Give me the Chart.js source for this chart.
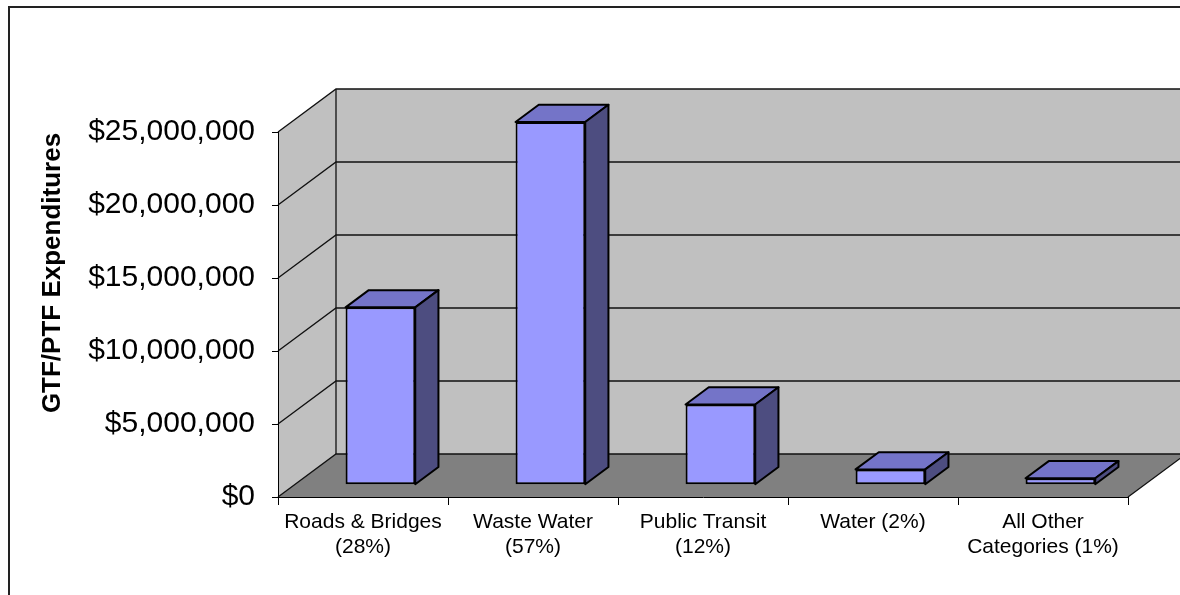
<!DOCTYPE html>
<html><head><meta charset="utf-8">
<script src="https://cdn.jsdelivr.net/npm/chart.js@4.4.1/dist/chart.umd.min.js"></script>
<style>html,body{margin:0;padding:0;background:#fff;overflow:hidden;}canvas{display:block;background:#fff;}</style>
</head><body>
<canvas id="c" width="1180" height="595"></canvas>
<script>
// ---- data ----
const categories = [['Roads & Bridges', '(28%)'], ['Waste Water', '(57%)'], ['Public Transit', '(12%)'], 'Water (2%)', ['All Other', 'Categories (1%)']];
const expenditures = [12150000, 24850000, 5500000, 1050000, 440000];
const yTicks = [0, 5000000, 10000000, 15000000, 20000000, 25000000];
const yTitle = 'GTF/PTF Expenditures';

// ---- style ----
const FONT = "'Liberation Sans', Arial, sans-serif";
const DX = 58, DY = 43;              // full depth of the 3D box
const FX1 = 0.3, FY1 = 0.285;        // bar front depth fractions
const BD = 0.4;                      // bar depth fraction
const FRONT_COL = '#9999ff', TOP_COL = '#7474c8', SIDE_COL = '#4d4d80';

function money(v) { return '$' + String(Math.round(v)).replace(/\B(?=(\d{3})+(?!\d))/g, ','); }

const scene3d = {
  id: 'scene3d',
  beforeDraw(chart) {
    const ctx = chart.ctx, a = chart.chartArea, ys = chart.scales.y;
    const L = a.left, R = a.right, B = a.bottom, T = ys.getPixelForValue(yTicks[yTicks.length - 1]);
    ctx.save();
    // white background
    ctx.fillStyle = '#fff';
    ctx.fillRect(0, 0, chart.width, chart.height);
    // outer chart border: left and top edges only (the frame runs off the picture)
    ctx.fillStyle = '#222';
    ctx.fillRect(8, 6, 2, chart.height);
    ctx.fillRect(8, 6, chart.width, 2);
    // left wall
    ctx.fillStyle = '#c0c0c0';
    ctx.beginPath();
    ctx.moveTo(L, T); ctx.lineTo(L + DX, T - DY); ctx.lineTo(L + DX, B - DY); ctx.lineTo(L, B);
    ctx.closePath(); ctx.fill();
    // back wall
    ctx.fillRect(L + DX, T - DY, R - L, B - T);
    // floor
    ctx.fillStyle = '#808080';
    ctx.beginPath();
    ctx.moveTo(L, B); ctx.lineTo(L + DX, B - DY); ctx.lineTo(R + DX, B - DY); ctx.lineTo(R, B);
    ctx.closePath(); ctx.fill();
    // gridlines
    ctx.strokeStyle = '#111';
    ctx.lineWidth = 1.3;
    ys.ticks.forEach(t => {
      const y = ys.getPixelForValue(t.value);
      ctx.beginPath();
      ctx.moveTo(L, y); ctx.lineTo(L + DX, y - DY); ctx.lineTo(R + DX, y - DY);
      ctx.stroke();
    });
    ctx.beginPath();
    ctx.moveTo(L + DX, T - DY); ctx.lineTo(L + DX, B - DY);
    ctx.moveTo(R, B); ctx.lineTo(R + DX, B - DY);
    ctx.stroke();
    ctx.restore();
  },
  beforeDatasetsDraw(chart) {
    chart.ctx.save();
    chart.ctx.translate(FX1 * DX, -FY1 * DY);
  },
  afterDatasetsDraw(chart) {
    const ctx = chart.ctx;
    ctx.restore();
    const ox = FX1 * DX, oy = FY1 * DY, bx = BD * DX, by = BD * DY;
    ctx.save();
    ctx.lineWidth = 2; ctx.strokeStyle = '#000'; ctx.lineJoin = 'round';
    chart.getDatasetMeta(0).data.forEach(el => {
      const p = el.getProps(['x', 'y', 'base', 'width'], true);
      const l = p.x - p.width / 2 + ox, r = p.x + p.width / 2 + ox;
      const t = Math.min(p.y, p.base) - oy, b = Math.max(p.y, p.base) - oy;
      // top face
      ctx.fillStyle = TOP_COL;
      ctx.beginPath();
      ctx.moveTo(l, t); ctx.lineTo(l + bx, t - by); ctx.lineTo(r + bx, t - by); ctx.lineTo(r, t);
      ctx.closePath(); ctx.fill(); ctx.stroke();
      // side face
      ctx.fillStyle = SIDE_COL;
      ctx.beginPath();
      ctx.moveTo(r, t); ctx.lineTo(r + bx, t - by); ctx.lineTo(r + bx, b - by); ctx.lineTo(r, b);
      ctx.closePath(); ctx.fill(); ctx.stroke();
    });
    ctx.restore();
  },
  afterDraw(chart) {
    const ctx = chart.ctx;
    ctx.save();
    ctx.translate(53, 273);
    ctx.rotate(-Math.PI / 2);
    ctx.font = 'bold 26px ' + FONT;
    ctx.fillStyle = '#000';
    ctx.textAlign = 'center';
    ctx.textBaseline = 'middle';
    ctx.fillText(yTitle, 0, 0);
    ctx.restore();
  }
};

new Chart(document.getElementById('c'), {
  type: 'bar',
  data: {
    labels: categories,
    datasets: [{
      data: expenditures,
      backgroundColor: FRONT_COL,
      borderColor: '#000',
      borderWidth: 2,
      borderSkipped: false,
      barPercentage: 0.41,
      categoryPercentage: 1.0
    }]
  },
  options: {
    responsive: false,
    animation: false,
    devicePixelRatio: 1,
    layout: { padding: { left: 0, top: 132, right: 52, bottom: 0 } },
    plugins: { legend: { display: false }, tooltip: { enabled: false } },
    scales: {
      x: {
        grid: { display: true, drawOnChartArea: false, drawTicks: true, tickLength: 8, color: '#000', lineWidth: 1 },
        border: { display: true, color: '#000', width: 1 },
        ticks: { color: '#000', font: { family: FONT, size: 21, lineHeight: 1.22 }, padding: 4, maxRotation: 0, autoSkip: false },
        afterFit(s) { s.height = 98; }
      },
      y: {
        min: yTicks[0],
        max: yTicks[yTicks.length - 1],
        grid: { display: true, drawOnChartArea: false, drawTicks: true, tickLength: 6, color: '#000', lineWidth: 1 },
        border: { display: true, color: '#000', width: 1 },
        ticks: { stepSize: yTicks[1] - yTicks[0], color: '#000', font: { family: FONT, size: 30 }, padding: 17, callback: v => money(v) },
        afterFit(s) { s.width = 278; }
      }
    }
  },
  plugins: [scene3d]
});
</script>
</body></html>
